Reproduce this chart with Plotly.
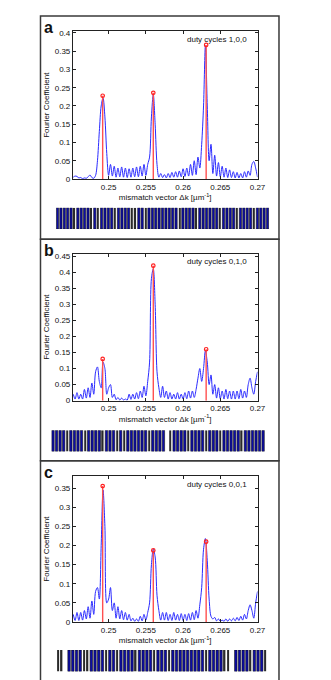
import plotly.graph_objects as go

# sampled mismatch vector values (um^-1), shared by the three spectra
dk = [0.24525, 0.2455, 0.24575, 0.246, 0.24625, 0.2465, 0.24675, 0.247, 0.24725, 0.2475,
      0.24775, 0.248, 0.24825, 0.2485, 0.24875, 0.249, 0.24925, 0.2495, 0.24975, 0.25,
      0.25025, 0.2505, 0.25075, 0.251, 0.25125, 0.2515, 0.25175, 0.252, 0.25225, 0.2525,
      0.25275, 0.253, 0.25325, 0.2535, 0.25375, 0.254, 0.25425, 0.2545, 0.25475, 0.255,
      0.25525, 0.2555, 0.25575, 0.256, 0.25625, 0.2565, 0.25675, 0.257, 0.25725, 0.2575,
      0.25775, 0.258, 0.25825, 0.2585, 0.25875, 0.259, 0.25925, 0.2595, 0.25975, 0.26,
      0.26025, 0.2605, 0.26075, 0.261, 0.26125, 0.2615, 0.26175, 0.262, 0.26225, 0.2625,
      0.26275, 0.263, 0.26325, 0.2635, 0.26375, 0.264, 0.26425, 0.2645, 0.26475, 0.265,
      0.26525, 0.2655, 0.26575, 0.266, 0.26625, 0.2665, 0.26675, 0.267, 0.26725, 0.2675,
      0.26775, 0.268, 0.26825, 0.2685, 0.26875, 0.269, 0.26925, 0.2695, 0.26975, 0.27]

# Fourier coefficient, duty cycles 1,0,0
coef_a = [0.005, 0.008, 0.007, 0.003, 0.004, 0.001, 0.003, 0.002, 0.006, 0.011,
          0.004, 0.002, 0.01, 0.05, 0.13, 0.2, 0.222, 0.17, 0.07, 0.01,
          0.04, 0.008, 0.035, 0.005, 0.03, 0.006, 0.033, 0.005, 0.03, 0.004,
          0.028, 0.005, 0.03, 0.006, 0.033, 0.006, 0.035, 0.008, 0.04, 0.01,
          0.04, 0.06, 0.17, 0.232, 0.15, 0.04, 0.005, 0.015, 0.004, 0.012,
          0.003, 0.015, 0.004, 0.018, 0.005, 0.02, 0.005, 0.022, 0.006, 0.028,
          0.007, 0.03, 0.008, 0.04, 0.01, 0.05, 0.012, 0.06, 0.03, 0.095,
          0.2, 0.365, 0.2, 0.05, 0.095, 0.015, 0.065, 0.008, 0.045, 0.006,
          0.035, 0.005, 0.03, 0.004, 0.025, 0.004, 0.02, 0.003, 0.018, 0.003,
          0.015, 0.003, 0.02, 0.005, 0.022, 0.01, 0.04, 0.048, 0.03, 0.005]

# duty cycles 0,1,0
coef_b = [0.02, 0.005, 0.025, 0.005, 0.02, 0.005, 0.035, 0.008, 0.04, 0.01,
          0.055, 0.02, 0.09, 0.105, 0.06, 0.04, 0.12, 0.1, 0.02, 0.04,
          0.05, 0.01, 0.02, 0.003, 0.01, 0.002, 0.008, 0.002, 0.005, 0.002,
          0.02, 0.004, 0.02, 0.005, 0.025, 0.006, 0.03, 0.01, 0.045, 0.015,
          0.06, 0.12, 0.38, 0.41, 0.3, 0.09, 0.04, 0.01, 0.045, 0.01,
          0.03, 0.005, 0.025, 0.005, 0.02, 0.005, 0.025, 0.005, 0.02, 0.005,
          0.025, 0.006, 0.03, 0.008, 0.03, 0.01, 0.035, 0.07, 0.1, 0.06,
          0.1, 0.155, 0.12, 0.05, 0.08, 0.02, 0.05, 0.008, 0.04, 0.006,
          0.03, 0.005, 0.035, 0.006, 0.03, 0.005, 0.03, 0.005, 0.03, 0.006,
          0.035, 0.008, 0.03, 0.01, 0.05, 0.07, 0.04, 0.02, 0.06, 0.09]

# duty cycles 0,0,1
coef_c = [0.02, 0.004, 0.025, 0.004, 0.025, 0.005, 0.03, 0.008, 0.04, 0.01,
          0.055, 0.02, 0.08, 0.09, 0.06, 0.2, 0.345, 0.25, 0.05, 0.06,
          0.09, 0.03, 0.05, 0.01, 0.04, 0.008, 0.03, 0.006, 0.025, 0.005,
          0.02, 0.003, 0.01, 0.002, 0.008, 0.002, 0.015, 0.003, 0.02, 0.005,
          0.025, 0.05, 0.15, 0.19, 0.17, 0.07, 0.03, 0.005, 0.025, 0.005,
          0.025, 0.004, 0.02, 0.004, 0.025, 0.005, 0.02, 0.004, 0.022, 0.004,
          0.02, 0.004, 0.022, 0.005, 0.025, 0.006, 0.03, 0.01, 0.045, 0.09,
          0.19, 0.218, 0.16, 0.06, 0.015, 0.008, 0.012, 0.003, 0.008, 0.002,
          0.005, 0.002, 0.008, 0.002, 0.008, 0.003, 0.01, 0.003, 0.012, 0.004,
          0.015, 0.005, 0.02, 0.008, 0.03, 0.045, 0.03, 0.01, 0.05, 0.08]

# target peaks (red stems)
peak_k = [0.2492, 0.2560, 0.2631]
peak_a = [0.228, 0.236, 0.367]
peak_b = [0.13, 0.42, 0.16]
peak_c = [0.355, 0.187, 0.21]

# domain barcodes: b = blue segment, k = black line, space = empty slot
code_a = "bbbbbkbbbbkbkbbbbkbbbbkkbbkbbbbbbbbbkbbbbkbbbbbbkbbbbkbbbbkbbbb"
code_b = "bbbbkbbbbkbbbbkbbbkbkbbbbbbkbbbb kbbbbkbbbbkbbbkbbbbbkbbbbbb"
code_c = "kk bbbbkkbbbbkbbkbbbbkbbbbkbbbkbbbbbbbbbkbbbbkk bbbbkbbbk"

labels = ["duty cycles 1,0,0", "duty cycles 0,1,0", "duty cycles 0,0,1"]
letters = ["a", "b", "c"]
ymax = [0.404, 0.457, 0.381]

W, H = 331, 680
def px(x): return x / W
def py(y): return 1 - y / H

FONT = "Liberation Sans, Arial, sans-serif"
plot_dom_x = [px(66.5), px(255.7)]
plot_dom_y = [[py(170), py(20.7)], [py(394.3), py(245.7)], [py(618.3), py(470.7)]]
bar_dom_x = [[px(49), px(267.7)], [px(44.3), px(263.3)], [px(49.3), px(265.7)]]
bar_dom_y = [[py(220.7), py(199)], [py(445.7), py(424.3)], [py(668.3), py(646.7)]]
boxes = [(5, 231), (231, 455), (455, 678.5)]

fig = go.Figure()
layout = {}
annotations = []
shapes = []

for i, (coef, pk, code) in enumerate(zip([coef_a, coef_b, coef_c],
                                         [peak_a, peak_b, peak_c],
                                         [code_a, code_b, code_c])):
    n = i + 1
    xa, ya = ("x", "y") if n == 1 else (f"x{n}", f"y{n}")
    fig.add_trace(go.Scatter(x=dk, y=coef, mode="lines", xaxis=xa, yaxis=ya,
                             line=dict(color="#2a2aff", width=1, shape="spline", smoothing=0.9),
                             showlegend=False, hoverinfo="skip"))
    sx, sy = [], []
    for k, h in zip(peak_k, pk):
        sx += [k, k, None]
        sy += [0, h, None]
    fig.add_trace(go.Scatter(x=sx, y=sy, mode="lines", xaxis=xa, yaxis=ya,
                             line=dict(color="#ff5050", width=1.4),
                             showlegend=False, hoverinfo="skip"))
    fig.add_trace(go.Scatter(x=peak_k, y=pk, mode="markers", xaxis=xa, yaxis=ya,
                             marker=dict(symbol="circle-open", size=3.5, color="#ff2020",
                                         line=dict(width=1.2, color="#ff2020")),
                             showlegend=False, hoverinfo="skip"))

    ax_suffix = "" if n == 1 else str(n)
    ticks = [round(0.05 * j, 2) for j in range(10) if 0.05 * j <= ymax[i] + 1e-9]
    layout[f"xaxis{ax_suffix}"] = dict(
        domain=plot_dom_x, anchor=ya, range=[0.2452, 0.2700],
        tickvals=[0.25, 0.255, 0.26, 0.265, 0.27],
        ticktext=["0.25", "0.255", "0.26", "0.265", "0.27"],
        ticks="inside", ticklen=3, tickcolor="#222", mirror="ticks",
        showline=True, linecolor="#222", linewidth=1, showgrid=False, zeroline=False,
        tickfont=dict(size=8, family=FONT, color="#111"),
        title=dict(text="mismatch vector \u0394k [\u00b5m<sup>-1</sup>]",
                   font=dict(size=8, family=FONT, color="#111"), standoff=1))
    layout[f"yaxis{ax_suffix}"] = dict(
        domain=plot_dom_y[i], anchor=xa, range=[0, ymax[i]],
        tickvals=ticks, ticktext=[("%g" % v) for v in ticks],
        ticks="inside", ticklen=3, tickcolor="#222", mirror="ticks",
        showline=True, linecolor="#222", linewidth=1, showgrid=False, zeroline=False,
        tickfont=dict(size=8, family=FONT, color="#111"),
        title=dict(text="Fourier Coefficient",
                   font=dict(size=8, family=FONT, color="#111"), standoff=3))

    # barcode strip
    bn = n + 3
    bx, by = f"x{bn}", f"y{bn}"
    idx = [j for j, c in enumerate(code) if c != " "]
    blue = [j for j in idx if code[j] == "b"]
    black = [j for j in idx if code[j] == "k"]
    fig.add_trace(go.Bar(x=blue, y=[1] * len(blue), xaxis=bx, yaxis=by, width=0.66,
                         marker=dict(color="#0c0ca8", line=dict(color="#111", width=0.6)),
                         showlegend=False, hoverinfo="skip"))
    fig.add_trace(go.Bar(x=black, y=[1] * len(black), xaxis=bx, yaxis=by, width=0.38,
                         marker=dict(color="#2a2a2a", line=dict(width=0)),
                         showlegend=False, hoverinfo="skip"))
    layout[f"xaxis{bn}"] = dict(domain=bar_dom_x[i], anchor=by, range=[-0.5, len(code) - 0.5],
                                visible=False, showticklabels=False, fixedrange=True)
    layout[f"yaxis{bn}"] = dict(domain=bar_dom_y[i], anchor=bx, range=[0, 1],
                                visible=False, showticklabels=False, fixedrange=True)

    annotations.append(dict(text=labels[i], xref=f"{xa} domain", yref=f"{ya} domain",
                            x=0.955, y=0.945, xanchor="right", yanchor="middle",
                            showarrow=False, font=dict(size=8, family=FONT, color="#111")))
    top, bot = boxes[i]
    annotations.append(dict(text=f"<b>{letters[i]}</b>", xref="paper", yref="paper",
                            x=px(35), y=py(top + 1), xanchor="left", yanchor="top",
                            showarrow=False, font=dict(size=16, family=FONT, color="#111")))
    shapes.append(dict(type="rect", xref="paper", yref="paper",
                       x0=px(33.3), x1=px(277.7), y0=py(bot), y1=py(top),
                       line=dict(color="#3a3a3a", width=1.5)))

fig.update_layout(width=W, height=H, margin=dict(l=0, r=0, t=0, b=0),
                  paper_bgcolor="white", plot_bgcolor="white", barmode="overlay",
                  annotations=annotations, shapes=shapes, **layout)
fig.write_html("out.html")
